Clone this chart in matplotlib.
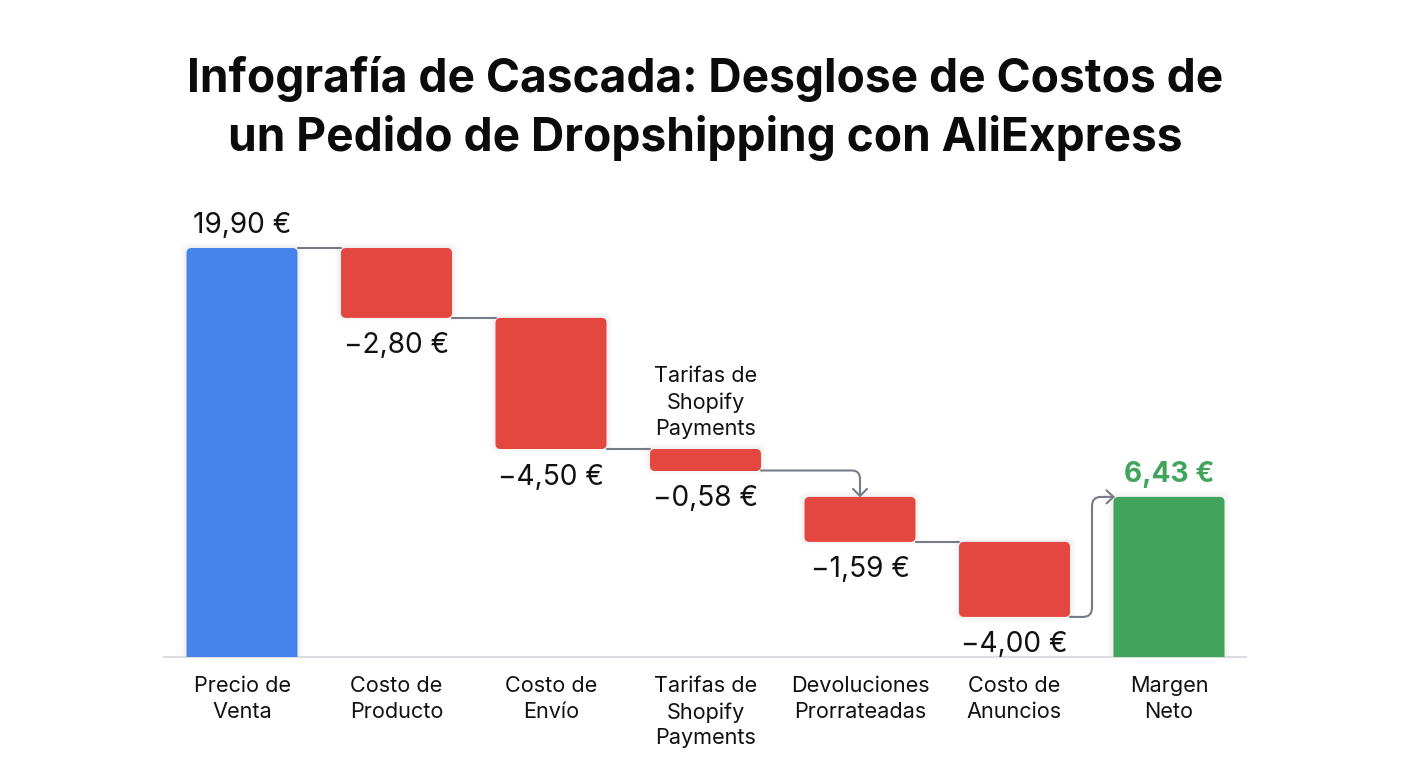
import matplotlib
matplotlib.use("Agg")
import matplotlib.pyplot as plt
from matplotlib.patches import FancyBboxPatch, PathPatch
from matplotlib.path import Path

plt.rcParams['font.family'] = ['Inter', 'DejaVu Sans']

TITLE = "Infografía de Cascada: Desglose de Costos de\nun Pedido de Dropshipping con AliExpress"
categories = ["Precio de\nVenta", "Costo de\nProducto", "Costo de\nEnvío", "Tarifas de\nShopify\nPayments",
              "Devoluciones\nProrrateadas", "Costo de\nAnuncios", "Margen\nNeto"]
value_labels = ["19,90 €", "−2,80 €", "−4,50 €", "−0,58 €", "−1,59 €", "−4,00 €", "6,43 €"]
note = "Tarifas de\nShopify\nPayments"
# Bar extents as drawn in the picture, in euros on the bar scale
bar_tops = [19.90, 19.90, 16.50, 10.12, 7.79, 5.60, 7.79]
bar_bottoms = [0, 16.50, 10.12, 9.05, 5.60, 1.95, 0]

BLUE, RED, GREEN = "#4684EC", "#E4473F", "#41A45C"
INK, GREY = "#111111", "#777B87"
W, H = 1408, 768
BASE_PX = 657
X_LEFT, X_RIGHT = 164, 1246
PX_X = 154.5              # pixels per category
PX_Y = 409 / 19.90        # pixels per euro
FIRST_CENTER = 242
BAR_W = 111 / PX_X

fig = plt.figure(figsize=(W/100, H/100), dpi=100, facecolor="white")
ax = fig.add_axes([X_LEFT/W, (H-BASE_PX)/H, (X_RIGHT-X_LEFT)/W, BASE_PX/H])
ax.set_xlim((X_LEFT-FIRST_CENTER)/PX_X, (X_RIGHT-FIRST_CENTER)/PX_X)
ax.set_ylim(0, BASE_PX/PX_Y)
for side in ("top", "left", "right"):
    ax.spines[side].set_visible(False)
ax.spines["bottom"].set_color("#DADCDF")
ax.spines["bottom"].set_linewidth(1.5)
ax.set_yticks([])
positions = list(range(len(categories)))
ax.set_xticks(positions, categories, fontsize=15.6, color=INK, linespacing=1.36)
ax.tick_params(axis="x", length=0, pad=13.8)

colors = [BLUE, RED, RED, RED, RED, RED, GREEN]
dx = lambda p: p / PX_X
dy = lambda p: p / PX_Y
aspect = PX_X / PX_Y

for i, (t, b, col) in enumerate(zip(bar_tops, bar_bottoms, colors)):
    left = i - BAR_W/2
    # bars standing on the axis run below it and are clipped there, which squares their feet
    low = b if b > 0 else -dy(10)
    for grow, a in ((6, .012), (4, .018), (2, .025)):
        ax.add_patch(FancyBboxPatch((left-dx(grow), low-dy(grow-2)), BAR_W+dx(2*grow), t-low+dy(2*grow-2),
                                    boxstyle=f"round,pad=0,rounding_size={dx(6)}", mutation_aspect=aspect,
                                    fc="#000000", alpha=a, ec="none", zorder=1.5, clip_on=True))
    ax.add_patch(FancyBboxPatch((left, low), BAR_W, t-low, boxstyle=f"round,pad=0,rounding_size={dx(5)}",
                                mutation_aspect=aspect, fc=col, ec="none", zorder=3, clip_on=True))

def line(pts, codes=None):
    ax.add_patch(PathPatch(Path(pts, codes), fc="none", ec=GREY, lw=1.5, zorder=2.5,
                           capstyle="round", joinstyle="round"))

# straight connectors between neighbouring bars
for i in (0, 1, 2, 4):
    y = bar_tops[0] if i == 0 else bar_bottoms[i]
    line([(i + BAR_W/2, y), (i + 1 - BAR_W/2, y)])

# elbow arrow from bar 3 down to bar 4
y3, y4 = bar_bottoms[3], bar_tops[4]
line([(3+BAR_W/2, y3+dy(.5)), (4-dx(8), y3+dy(.5)), (4, y3+dy(.5)), (4, y3-dy(8)), (4, y4+dy(1))],
     [Path.MOVETO, Path.LINETO, Path.CURVE3, Path.CURVE3, Path.LINETO])
line([(4-dx(7), y4+dy(8)), (4, y4+dy(1)), (4+dx(7), y4+dy(8))])

# elbow arrow from bar 5 up to bar 6
y5, y6 = bar_bottoms[5], bar_tops[6]
xv = 5 + BAR_W/2 + dx(22)
xe = 6 - BAR_W/2
line([(5+BAR_W/2, y5), (xv-dx(9), y5), (xv, y5), (xv, y5+dy(9)), (xv, y6-dy(9)), (xv, y6), (xv+dx(9), y6), (xe, y6)],
     [Path.MOVETO, Path.LINETO, Path.CURVE3, Path.CURVE3, Path.LINETO, Path.CURVE3, Path.CURVE3, Path.LINETO])
line([(xe-dx(7), y6+dy(6.5)), (xe, y6), (xe-dx(7), y6-dy(6.5))])

fig.text(705/W, 1-108.5/H, TITLE, ha="center", va="center", fontsize=33.2, fontweight="bold",
         color="#0B0B0B", linespacing=1.36)

# value labels sit above the positive bars and below the cost bars
for i, s in enumerate(value_labels):
    above = colors[i] != RED
    green = colors[i] == GREEN
    y = bar_tops[i] if above else bar_bottoms[i]
    off = 22 if above else -28
    ax.annotate(s, (i, y), xytext=(0, off), textcoords="offset pixels", ha="center", va="center",
                fontsize=20.2, color=GREEN if green else INK, fontweight="bold" if green else "normal",
                zorder=6)

ax.annotate(note, (3, bar_tops[3]), xytext=(0, 46.5), textcoords="offset pixels", ha="center", va="center",
            fontsize=15.6, color=INK, linespacing=1.36)

fig.savefig("out.png", dpi=100, facecolor="white")
